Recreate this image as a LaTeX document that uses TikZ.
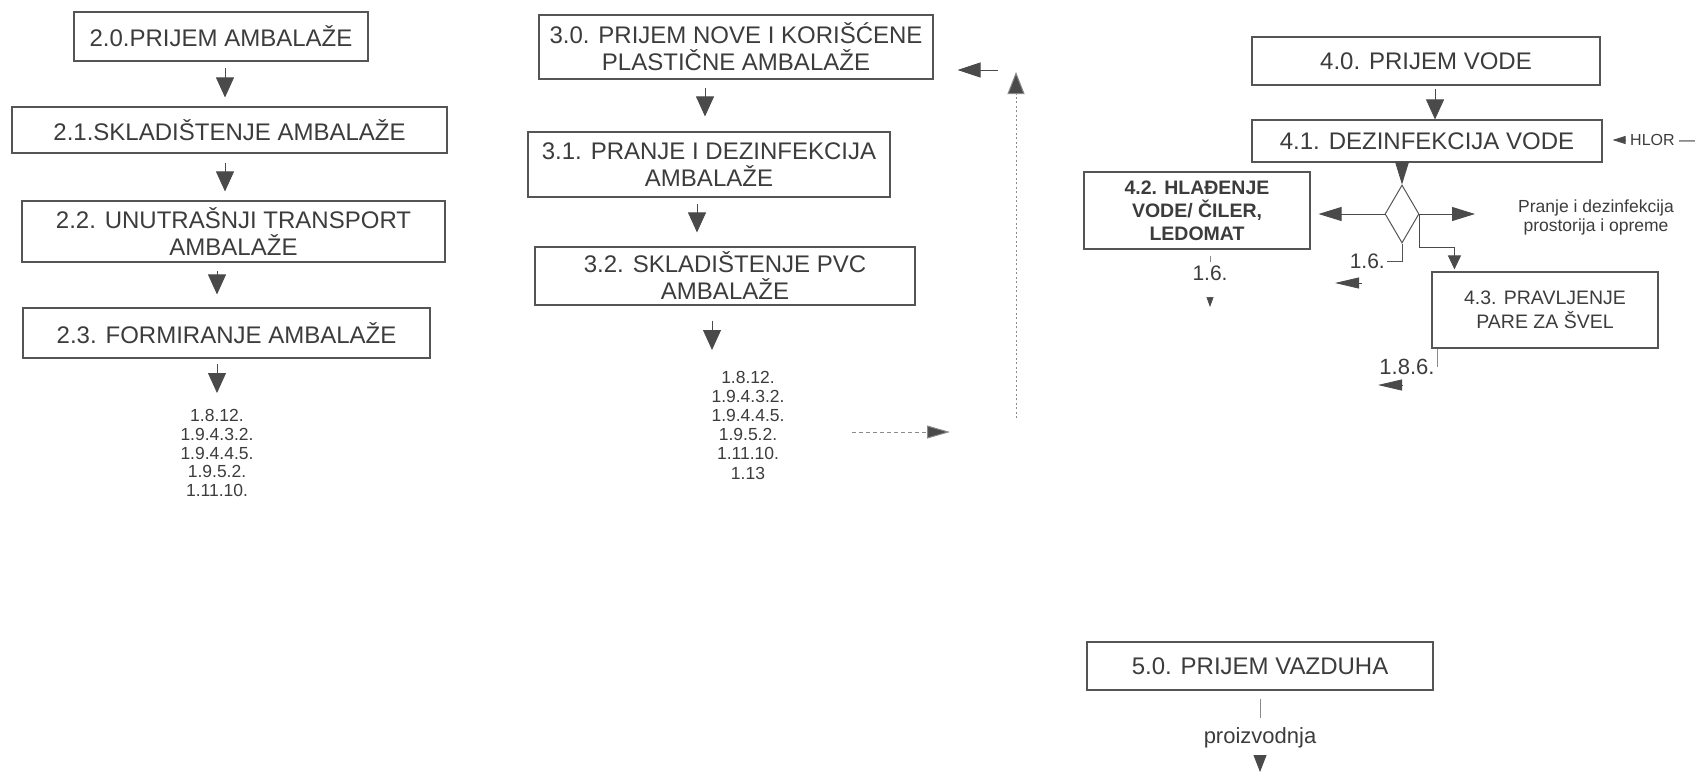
\documentclass[tikz,border=0pt]{standalone}
\usepackage{fontspec}
\setmainfont{Liberation Sans}
\usetikzlibrary{arrows.meta,shapes.geometric,calc}
\definecolor{ink}{HTML}{3C3C3C}
\definecolor{edge}{HTML}{555555}
\definecolor{headc}{HTML}{4A4A4A}
\definecolor{dotc}{HTML}{8A8A8A}
\tikzset{
 box/.style={draw=edge, line width=1.1pt, rectangle, inner sep=0pt, align=center, text=ink, font=\fontsize{24}{27}\selectfont},
 lst/.style={inner sep=0pt, align=center, text=ink, font=\fontsize{17.5}{18.8}\selectfont},
 lbl/.style={inner sep=0pt, text=ink, font=\fontsize{21}{24}\selectfont},
 arr/.style={draw=headc, line width=0.8pt, -{Triangle[length=20pt,width=18pt]}},
 arrs/.style={draw=headc, line width=0.8pt, -{Triangle[length=23pt,width=14pt]}},
 arrl/.style={draw=headc, line width=0.8pt, -{Triangle[length=24pt,width=11pt]}},
 tick/.style={draw=dotc, line width=0.8pt},
 dotarr/.style={draw=dotc, line width=1pt, dash pattern=on 2pt off 2.5pt, -{Triangle[length=22pt,width=17pt,fill=headc]}},
 dasharr/.style={draw=dotc, line width=1pt, dash pattern=on 4pt off 3pt, -{Triangle[length=23pt,width=13pt,fill=headc]}}
}
\begin{document}
\begin{tikzpicture}[x=1pt,y=-1pt]
\useasboundingbox (0,0) rectangle (1704,774);
% left column
\node[box, minimum width=294pt, minimum height=49pt] (b20) at (221,36.5) {2.0.PRIJEM AMBALAŽE};
\node[box, minimum width=435pt, minimum height=46pt] (b21) at (229.5,130) {2.1.SKLADIŠTENJE AMBALAŽE};
\node[box, minimum width=423pt, minimum height=61pt] (b22) at (233.5,231.5) {2.2. UNUTRAŠNJI TRANSPORT\\AMBALAŽE};
\node[box, minimum width=407pt, minimum height=50pt] (b23) at (226.5,333) {2.3. FORMIRANJE AMBALAŽE};
\node[lst] (l2) at (217,453) {1.8.12.\\1.9.4.3.2.\\1.9.4.4.5.\\1.9.5.2.\\1.11.10.};
\coordinate (t2) at (217,393);
\draw[arr, shorten <=6pt, shorten >=9pt] ([xshift=4pt]b20.south) -- ([xshift=4pt]b20.south |- b21.north);
\draw[arr, shorten <=9pt, shorten >=9pt] ([xshift=-4.5pt]b21.south) -- ([xshift=-4.5pt]b21.south |- b22.north);
\draw[arr, shorten <=8pt, shorten >=13pt] ([xshift=-16.5pt]b22.south) -- ([xshift=-16.5pt]b22.south |- b23.north);
\draw[arr, shorten <=5pt] ([xshift=-9.5pt]b23.south) -- (t2);
% middle column
\node[box, minimum width=394pt, minimum height=64pt] (b30) at (736,47) {3.0. PRIJEM NOVE I KORIŠĆENE\\PLASTIČNE AMBALAŽE};
\node[box, minimum width=362pt, minimum height=65pt] (b31) at (709,164.5) {3.1. PRANJE I DEZINFEKCIJA\\AMBALAŽE};
\node[box, minimum width=380pt, minimum height=58pt] (b32) at (725,276) {3.2. SKLADIŠTENJE PVC\\AMBALAŽE};
\node[lst, font=\fontsize{17.5}{19.2}\selectfont] (l3) at (748,425) {1.8.12.\\1.9.4.3.2.\\1.9.4.4.5.\\1.9.5.2.\\1.11.10.\\1.13};
\coordinate (t3) at (712,350);
\draw[arr, shorten <=8pt, shorten >=15pt] ([xshift=-31pt]b30.south) -- ([xshift=-31pt]b30.south |- b31.north);
\draw[arr, shorten <=6pt, shorten >=14pt] ([xshift=-12pt]b31.south) -- ([xshift=-12pt]b31.south |- b32.north);
\draw[arr, shorten <=15pt] ([xshift=-13pt]b32.south) -- (t3);
\coordinate (d0) at (852,432);
\coordinate (d1) at (950,432);
\draw[dasharr] (d0) -- (d1);
\coordinate (v0) at (1016,418);
\coordinate (v1) at (1016,72);
\draw[dotarr] (v0) -- (v1);
\coordinate (h0) at (998,70);
\draw[draw=headc, line width=0.8pt, -{Triangle[length=23pt,width=15pt]}, shorten >=24pt] (h0) -- (b30.east |- h0);
% right part
\node[box, minimum width=348pt, minimum height=48pt] (b40) at (1426,61) {4.0. PRIJEM VODE};
\node[box, minimum width=350pt, minimum height=42pt] (b41) at (1427,141) {4.1. DEZINFEKCIJA VODE};
\draw[arr, shorten <=3pt] ([xshift=9pt]b40.south) -- ([xshift=9pt]b40.south |- b41.north);
\node[inner sep=0pt, anchor=west, text=ink, font=\fontsize{16}{18}\selectfont] (hl) at (1630,140) {HLOR —};
\draw[draw=headc, line width=0.8pt, -{Triangle[length=13pt,width=8pt]}, shorten <=5pt, shorten >=10pt] (hl.west) -- (b41.east |- hl.west);
\node[diamond, draw=edge, line width=1pt, minimum width=34pt, minimum height=58pt, inner sep=0pt] (dia) at (1402,214) {};
\draw[arrs] ([xshift=-25pt]b41.south) -- (dia.north);
\node[box, minimum width=226pt, minimum height=77pt, font=\bfseries\fontsize{19.5}{23}\selectfont] (b42) at (1197,210.5) {4.2. HLAĐENJE\\VODE/ ČILER,\\LEDOMAT};
\draw[arrs, line width=1pt, shorten >=8pt] (dia.west) -- (b42.east |- dia.west);
\node[lbl] (l16a) at (1210,273) {1.6.};
\draw[tick, shorten <=6pt, shorten >=3pt] ([xshift=13pt]b42.south) -- (l16a.north);
\coordinate (t16) at (1210,307);
\draw[draw=headc, line width=0.6pt, -{Triangle[length=10pt,width=7pt]}, shorten <=16pt] (l16a.south) -- (t16);
\node[lbl, anchor=east] (l16b) at (1385,261) {1.6.};
\draw[draw=edge, line width=1pt, shorten >=2pt] (dia.south) |- (l16b.east);
\coordinate (c1) at (1362,283);
\coordinate (c2) at (1335,283);
\draw[arrl] (c1) -- (c2);
\node[lst, font=\fontsize{17.5}{19}\selectfont] (pr) at (1596,217) {Pranje i dezinfekcija\\prostorija i opreme};
\draw[arrs, line width=1pt, shorten >=43pt] (dia.east) -- (pr.west |- dia.east);
\node[box, minimum width=226pt, minimum height=76pt, font=\fontsize{19.5}{24}\selectfont] (b43) at (1545,310) {4.3. PRAVLJENJE\\PARE ZA ŠVEL};
\draw[draw=headc, line width=1pt, -{Triangle[length=14pt,width=13pt]}, shorten >=2pt] (dia.east) -- ([yshift=-33pt]dia.east) -| ([xshift=23pt]b43.north west);
\node[lbl, font=\fontsize{22}{24}\selectfont] (l186) at (1407,367) {1.8.6.};
\draw[tick] ([xshift=6pt]b43.south west) -- ([xshift=6pt]b43.south west |- l186.center);
\coordinate (c3) at (1402,385);
\coordinate (c4) at (1378,385);
\draw[arrl] (c3) -- (c4);
% bottom
\node[box, minimum width=346pt, minimum height=48pt] (b50) at (1260,666) {5.0. PRIJEM VAZDUHA};
\node[lbl, font=\fontsize{22}{24}\selectfont] (prod) at (1260,738) {proizvodnja};
\draw[tick, shorten <=8pt, shorten >=9.7pt] (b50.south) -- (prod.north);
\coordinate (pe) at (1260,772);
\draw[draw=headc, line width=0.8pt, -{Triangle[length=17pt,width=13pt]}, shorten <=6.7pt] (prod.south) -- (pe);
\end{tikzpicture}
\end{document}
